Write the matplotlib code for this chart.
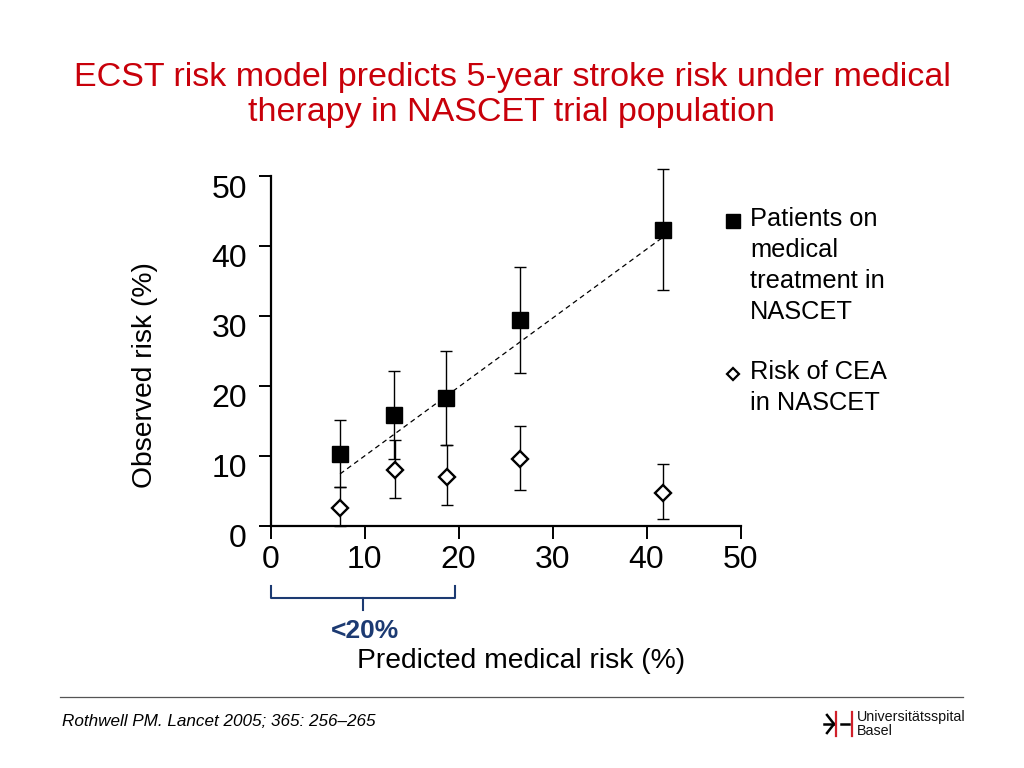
import matplotlib
matplotlib.use("Agg")
import matplotlib.pyplot as plt
from matplotlib.transforms import ScaledTranslation
from matplotlib.lines import Line2D
import numpy as np

plt.rcParams['font.family'] = ['Liberation Sans', 'DejaVu Sans']

# data
predicted = [7.4, 13.1, 18.7, 26.5, 41.8]
observed_medical = [10.3, 15.8, 18.3, 29.4, 42.3]
medical_low = [5.6, 9.6, 11.6, 21.9, 33.7]
medical_high = [15.1, 22.1, 25.0, 37.0, 51.0]

predicted_cea = [7.4, 13.2, 18.8, 26.5, 41.8]
observed_cea = [2.6, 8.0, 7.0, 9.6, 4.7]
cea_low = [0.0, 3.9, 2.9, 5.1, 1.0]
cea_high = [5.6, 12.2, 11.6, 14.2, 8.8]

fit_x = [7.4, 41.8]
fit_y = [7.4, 41.3]

ticks = [0, 10, 20, 30, 40, 50]
bracket_range = (0, 19.6)

title = "ECST risk model predicts 5-year stroke risk under medical\ntherapy in NASCET trial population"
label_medical = "Patients on\nmedical\ntreatment in\nNASCET"
label_cea = "Risk of CEA\nin NASCET"
citation = "Rothwell PM. Lancet 2005; 365: 256\u2013265"

W, H = 1024, 768
fig = plt.figure(figsize=(W / 100, H / 100), dpi=100)
fig.patch.set_facecolor('white')


def fx(px):
    return px / W


def fy(py):
    return 1 - py / H


ax = fig.add_axes([fx(270.5), fy(525.7), 470 / W, 349.7 / H])

ax.plot(fit_x, fit_y, linestyle=(0, (4, 3)), color='black', lw=0.9, zorder=1)

yerr_m = [np.array(observed_medical) - np.array(medical_low),
          np.array(medical_high) - np.array(observed_medical)]
yerr_c = [np.array(observed_cea) - np.array(cea_low),
          np.array(cea_high) - np.array(observed_cea)]

ax.errorbar(predicted, observed_medical, yerr=yerr_m, fmt='none',
            ecolor='black', elinewidth=1.0, capsize=4.5, capthick=1.0,
            zorder=2, clip_on=False)
ax.errorbar(predicted_cea, observed_cea, yerr=yerr_c, fmt='none',
            ecolor='black', elinewidth=1.0, capsize=4.5, capthick=1.0,
            zorder=2, clip_on=False)
ax.plot(predicted, observed_medical, 's', color='black', markersize=12,
        zorder=3, clip_on=False)
ax.plot(predicted_cea, observed_cea, 'D', markerfacecolor='white',
        markeredgecolor='black', markeredgewidth=1.7, markersize=8,
        linestyle='none', zorder=3, clip_on=False)

ax.set_xlim(0, 50)
ax.set_ylim(0, 50)
ax.set_xticks(ticks)
ax.set_yticks(ticks)
ax.spines['top'].set_visible(False)
ax.spines['right'].set_visible(False)
for s in ['left', 'bottom']:
    ax.spines[s].set_linewidth(1.6)
ax.tick_params(axis='both', direction='out', length=9, width=1.4,
               labelsize=23, colors='black')
ax.tick_params(axis='y', pad=8)
ax.tick_params(axis='x', pad=5)
for lab in ax.get_yticklabels():
    lab.set_transform(lab.get_transform() + ScaledTranslation(0, -0.10, fig.dpi_scale_trans))

# bracket marking predicted risk < 20%
tr = ax.get_xaxis_transform()
b0, b1 = bracket_range
bmid = (b0 + b1) / 2
navy = '#1c3a72'
ax.plot([b0, b0, b1, b1], [-0.172, -0.207, -0.207, -0.172], color=navy,
        lw=1.5, transform=tr, clip_on=False)
ax.plot([bmid, bmid], [-0.207, -0.24], color=navy, lw=1.5, transform=tr,
        clip_on=False)
ax.text(bmid + 0.2, -0.302, "<20%", transform=tr, ha='center', va='center',
        fontsize=19, fontweight='bold', color=navy)

fig.text(fx(521), fy(661), "Predicted medical risk (%)", ha='center',
         va='center', fontsize=20.3)
fig.text(fx(145), fy(375), "Observed risk (%)", ha='center', va='center',
         fontsize=20.3, rotation=90)

fig.text(0.5, fy(95), title, ha='center', va='center', fontsize=24.5,
         color='#c8000a', linespacing=1.2)

# legend
fig.lines.append(Line2D([fx(733)], [fy(221)], marker='s', color='black',
                        markersize=10.5, transform=fig.transFigure))
fig.lines.append(Line2D([fx(733)], [fy(374)], marker='D', markerfacecolor='white',
                        markeredgecolor='black', markeredgewidth=1.6,
                        markersize=6.5, transform=fig.transFigure))
fig.text(fx(750), fy(207), label_medical, ha='left', va='top', fontsize=18.3,
         linespacing=1.37)
fig.text(fx(750), fy(360), label_cea, ha='left', va='top', fontsize=18.3,
         linespacing=1.37)

# footer
fig.lines.append(Line2D([fx(60), fx(963)], [fy(697), fy(697)], color='#555555',
                        lw=0.9, transform=fig.transFigure))
fig.text(fx(62), fy(721), citation, ha='left', va='center', fontsize=12.3,
         style='italic')

# logo
red = '#d0202a'
for seg in [([824, 834], [724, 724]), ([827, 834], [715, 724]),
            ([827, 834], [733, 724]), ([841, 849], [724, 724])]:
    fig.lines.append(Line2D([fx(v) for v in seg[0]], [fy(v) for v in seg[1]],
                            color='black', lw=1.8, transform=fig.transFigure))
for xx in [836, 852]:
    fig.lines.append(Line2D([fx(xx), fx(xx)], [fy(712), fy(736)], color=red,
                            lw=1.6, transform=fig.transFigure))
fig.text(fx(857), fy(724), "Universitätsspital\nBasel", ha='left', va='center',
         fontsize=10.3, linespacing=1.0, color='#111111')

fig.savefig("out.png", dpi=100)
